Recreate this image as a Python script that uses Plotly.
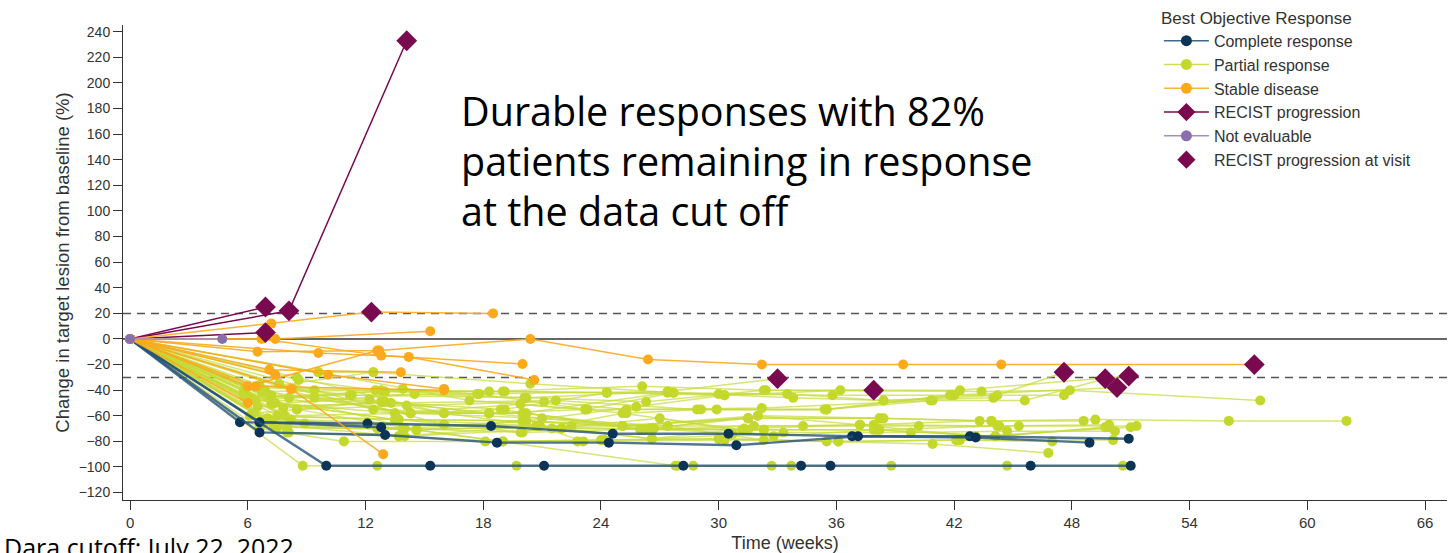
import plotly.graph_objects as go

# ---------------- data (weeks, % change from baseline) ----------------
pd_weeks = [[0, 6.9], [0, 8.1, 14.1], [0, 6.9]]
pd_values = [[0, 25], [0, 22, 233], [0, 5]]

ne_weeks = [[0, 4.7]]
ne_values = [[0, 0]]

sd_weeks = [
    [0, 7.2, 12.3, 18.5],
    [0, 7.4, 15.3],
    [0, 6.5, 12.7, 20.4, 26.4, 32.2, 39.4, 44.4, 57.3],
    [0, 9.6, 14.2, 20.6],
    [0, 6.7, 12.8, 20.0],
    [0, 10.1, 16.0],
    [0, 7.1, 13.8],
    [0, 8.2, 12.9],
    [0, 6.0, 12.6],
    [0, 6.4, 16.0],
    [0, 6.0],
    [0, 7.4],
]
sd_values = [
    [0, 12, 21, 20],
    [0, 0, 6],
    [0, -10, -9, 0, -16, -20, -20, -20, -20],
    [0, -11, -14, -32],
    [0, 0, -13, -19.5],
    [0, -28, -39],
    [0, -24, -26],
    [0, -39, -90],
    [0, -37, -9],
    [0, -37, -40],
    [0, -50],
    [0, -28],
]

cr_weeks = [
    [0, 5.6, 12.1, 18.4, 24.6, 30.5, 36.8, 42.8, 50.9],
    [0, 6.6, 13.0, 18.7, 24.4, 30.9, 37.1, 43.1, 48.9],
    [0, 6.6, 12.8],
    [0, 10.0, 15.3, 21.1, 28.2, 34.2, 35.7, 45.9, 51.0],
]
cr_values = [
    [0, -65, -66, -68, -74, -74, -76, -76, -78],
    [0, -73, -75, -81, -81, -83, -76, -77, -81],
    [0, -65, -69],
    [0, -99, -99, -99, -99, -99, -99, -99, -99],
]

pr_weeks = [
    [0, 7.1, 12.9, 19.0, 24.3, 30.3, 36.2, 42.3, 50.9],
    [0, 6.4, 13.9, 17.7, 27.4, 33.0],
    [0, 7.2, 14.5, 20.1, 26.3, 32.4, 37.9],
    [0, 5.8, 12.4, 20.4, 27.7, 33.8, 38.4, 44.2, 47.6],
    [0, 8.5, 14.1, 21.1, 25.3, 32.2, 40.8, 45.6, 49.7],
    [0, 6.5, 13.3, 21.7, 28.9, 35.4, 41.8, 50.3],
    [0, 6.7, 12.5, 18.3, 26.1, 32.3, 43.4, 47.9, 57.6],
    [0, 6.2, 13.5, 20.0, 25.1, 31.5, 38.2, 43.9, 49.2, 56.0, 62.0],
    [0, 7.4, 13.5, 20.1, 26.6, 32.0, 37.2, 43.3, 48.6],
    [0, 7.9, 14.3, 18.9, 26.2, 31.8, 37.9, 44.2, 49.9],
    [0, 7.0, 13.9, 20.1, 27.4, 34.3, 40.2, 45.3, 51.3],
    [0, 6.8, 13.7, 20.7, 26.6, 33.3, 39.8, 44.7, 50.2],
    [0, 8.2, 16.0, 21.5, 27.0, 32.8, 38.1, 44.1, 49.7],
    [0, 6.6, 10.9, 18.1, 24.0, 30.0, 36.1, 42.1, 47.0],
    [0, 8.0, 13.7, 19.0, 22.8, 30.3, 35.5, 40.9, 46.8],
    [0, 8.8, 12.6, 19.7, 27.9, 32.7, 38.8, 44.7, 50.6],
    [0, 8.0, 14.6, 27.8, 28.7, 33.7],
    [0, 5.8, 11.2, 17.7],
    [0, 7.6, 12.4, 18.3],
    [0, 6.3, 12.8, 19.1, 24.3],
    [0, 8.5, 16.0, 22.0],
    [0, 9.6, 17.3, 23.2, 27.7],
    [0, 6.1, 13.5, 20.1, 25.8, 30.3],
    [0, 7.1, 13.9, 19.9, 25.1, 31.2],
    [0, 9.4, 16.0, 20.7, 26.2, 32.3],
    [0, 9.4, 14.3, 21.0, 27.4, 32.3],
    [0, 8.5, 14.6, 22.5, 25.1, 31.5],
    [0, 9.6, 12.4],
    [0, 7.8, 12.8, 18.3, 23.2, 29.9, 35.5, 40.9],
    [0, 6.0, 12.2, 16.0, 20.2, 26.0, 31.5, 38.2, 43.9],
    [0, 7.5, 14.0, 19.0, 24.2, 30.0, 36.1, 42.3, 50.1],
    [0, 8.1, 14.6, 20.2, 26.6, 31.5, 37.9, 44.1, 49.9],
    [0, 7.3, 13.6, 20.9, 26.6, 31.3, 37.2, 43.1, 51.0],
    [0, 6.1, 13.0, 18.3, 25.1, 32.0, 38.4],
    [0, 5.9, 12.8, 19.1, 24.3, 30.0, 35.8, 41.8],
    [0, 6.9, 14.3, 20.0, 27.4, 33.5, 38.4, 44.0],
    [0, 8.3, 13.5, 19.9, 25.3, 29.1, 35.5, 42.0, 47.6],
    [0, 7.2, 12.9],
    [0, 8.6, 13.0, 17.8, 23.3],
    [0, 6.6, 11.3, 20.2, 27.4],
    [0, 7.5, 13.7, 20.0, 26.5, 30.7],
    [0, 8.1, 14.0, 22.0, 26.7, 32.3, 38.2, 44.3],
    [0, 7.3, 14.6, 20.8, 23.1],
    [0, 8.9, 12.6],
]
pr_values = [
    [0, -45, -41, -41, -42, -44, -40, -40, -29],
    [0, -48, -39, -43, -41, -31],
    [0, -51, -43, -46, -49, -40, -40],
    [0, -40, -26, -35, -42, -46, -48, -44, -26],
    [0, -55, -52, -49, -55, -54, -48, -48, -31],
    [0, -53, -50, -48, -55, -55, -44, -38],
    [0, -41, -40, -41, -37, -40, -41, -40, -48],
    [0, -47, -63, -64, -68, -62, -62, -64, -63, -64, -64],
    [0, -50, -58, -58, -70, -60, -67, -64, -64],
    [0, -60, -58, -55, -71, -68, -67, -68, -67],
    [0, -62, -70, -64, -68, -68, -68, -68, -68],
    [0, -66, -76, -68, -78, -73, -73, -72, -72],
    [0, -63, -67, -70, -62, -76, -71, -76, -69],
    [0, -70, -80, -80, -79, -78, -80, -79, -80],
    [0, -73, -76, -80, -80, -79, -80, -82, -89],
    [0, -99, -99, -99, -99, -99, -99, -99, -99],
    [0, -69, -71, -99, -99, -99],
    [0, -45, -44, -43],
    [0, -35, -55, -58],
    [0, -58, -49, -55, -42],
    [0, -30, -58, -70],
    [0, -26, -48, -55, -42],
    [0, -60, -63, -64, -53, -44],
    [0, -63, -70, -73, -58, -71],
    [0, -40, -67, -68, -71, -71],
    [0, -46, -58, -62, -68, -79],
    [0, -55, -71, -68, -68, -62],
    [0, -26, -26],
    [0, -54, -49, -58, -55, -55, -55, -48],
    [0, -45, -47, -58, -58, -71, -62, -62, -64],
    [0, -69, -70, -80, -79, -78, -80, -79, -79],
    [0, -46, -71, -64, -70, -71, -71, -76, -69],
    [0, -50, -63, -68, -78, -70, -67, -76, -69],
    [0, -48, -49, -58, -68, -60, -62],
    [0, -38, -40, -41, -42, -43, -44, -44],
    [0, -41, -58, -58, -42, -43, -48, -46],
    [0, -39, -58, -51, -58, -55, -55, -44, -44],
    [0, -44, -49],
    [0, -32, -41, -43, -55],
    [0, -36, -44, -46, -41],
    [0, -60, -63, -73, -70, -74],
    [0, -73, -76, -70, -70, -71, -71, -68],
    [0, -67, -71, -68, -80],
    [0, -66, -70],
]

prog_weeks = [6.9, 8.1, 14.1, 6.9, 12.3, 33.0, 37.9, 47.6, 49.7, 50.3, 50.9, 57.3]
prog_values = [25, 22, 233, 5, 21, -31, -40, -26, -31, -38, -29, -20]

x_ticks = [0, 6, 12, 18, 24, 30, 36, 42, 48, 54, 60, 66]
y_ticks = [-120, -100, -80, -60, -40, -20, 0, 20, 40, 60, 80, 100, 120, 140, 160, 180, 200, 220, 240]

annotation_lines = ["Durable responses with 82%", "patients remaining in response", "at the data cut off"]

# ---------------- styles ----------------
CR_MARK, CR_LINE = "#0c3457", "rgba(38,82,122,0.8)"
PR_MARK, PR_LINE = "#c4d82b", "rgba(198,218,55,0.7)"
SD_MARK, SD_LINE = "#fca91c", "rgba(251,168,30,0.9)"
PD_COL = "#7a0a4f"
NE_MARK, NE_LINE = "#8b6fad", "#a38fc2"

fig = go.Figure()


def add_group(weeks, values, mark, line, width=1.5, msize=10):
    for w, v in zip(weeks, values):
        fig.add_trace(go.Scatter(
            x=w, y=v, mode="lines+markers", showlegend=False, hoverinfo="skip",
            line=dict(color=line, width=width),
            marker=dict(color=mark, size=msize, symbol="circle"),
        ))


add_group(pr_weeks, pr_values, PR_MARK, PR_LINE, 1.5)
add_group(cr_weeks, cr_values, CR_MARK, CR_LINE, 2.4)

for w, v in zip(pd_weeks, pd_values):
    fig.add_trace(go.Scatter(x=w, y=v, mode="lines", showlegend=False, hoverinfo="skip",
                             line=dict(color=PD_COL, width=1.5)))

add_group(sd_weeks, sd_values, SD_MARK, SD_LINE, 1.5)
add_group(ne_weeks, ne_values, NE_MARK, NE_LINE, 1.5)

fig.add_trace(go.Scatter(x=prog_weeks, y=prog_values, mode="markers", showlegend=False,
                         hoverinfo="skip",
                         marker=dict(color=PD_COL, size=16, symbol="diamond")))

# legend entries
legend_items = [
    ("Complete response", "lines+markers", CR_MARK, "#3e6a8e", "circle", 11),
    ("Partial response", "lines+markers", PR_MARK, "#cddd55", "circle", 11),
    ("Stable disease", "lines+markers", SD_MARK, "#fbb43c", "circle", 11),
    ("RECIST progression", "lines+markers", PD_COL, PD_COL, "diamond", 14),
    ("Not evaluable", "lines+markers", NE_MARK, NE_LINE, "circle", 11),
    ("RECIST progression at visit", "markers", PD_COL, PD_COL, "diamond", 14),
]
for name, mode, mc, lc, sym, sz in legend_items:
    fig.add_trace(go.Scatter(x=[None], y=[None], mode=mode, name=name,
                             line=dict(color=lc, width=1.5),
                             marker=dict(color=mc, size=sz, symbol=sym)))

# reference lines
fig.add_shape(type="line", xref="paper", x0=0, x1=1, yref="y", y0=20, y1=20,
              line=dict(color="#555555", width=1.5, dash="8px,6px"), layer="below")
fig.add_shape(type="line", xref="paper", x0=0, x1=1, yref="y", y0=-30, y1=-30,
              line=dict(color="#555555", width=1.5, dash="8px,6px"), layer="below")
fig.add_shape(type="line", xref="paper", x0=0, x1=1, yref="y", y0=0, y1=0,
              line=dict(color="#333333", width=1.5), layer="below")

# big annotation
for txt, yv in zip(annotation_lines, [178, 139, 100]):
    fig.add_annotation(x=16.75, y=yv, xref="x", yref="y", text=txt, showarrow=False,
                       xanchor="left", yanchor="middle",
                       font=dict(family="Open Sans, Noto Sans, sans-serif", size=39.5, color="#000000"))

fig.add_annotation(x=-0.0914, y=-0.098, xref="paper", yref="paper",
                   text="Dara cutoff: July 22, 2022", showarrow=False,
                   xanchor="left", yanchor="middle",
                   font=dict(family="Open Sans, Noto Sans, sans-serif", size=25, color="#000000"))

axis_font = dict(family="Liberation Sans, Arial, sans-serif", size=14, color="#333333")
narrow_font = dict(family="Liberation Sans Narrow, Arial Narrow, Liberation Sans, sans-serif",
                   size=15, color="#333333")

fig.update_layout(
    width=1455, height=553,
    margin=dict(l=123, r=8, t=25, b=53, autoexpand=False),
    plot_bgcolor="white", paper_bgcolor="white",
    font=dict(family="Liberation Sans, Arial, sans-serif", color="#333333"),
    legend=dict(
        xref="container", yref="container",
        x=0.7965, y=0.997, xanchor="left", yanchor="top",
        bgcolor="rgba(0,0,0,0)",
        itemwidth=45,
        title=dict(text="Best Objective Response",
                   font=dict(family="Liberation Sans, Arial, sans-serif", size=17, color="#333333")),
        font=dict(family="Liberation Sans, Arial, sans-serif", size=16, color="#333333"),
        tracegroupgap=0,
    ),
    xaxis=dict(
        range=[-0.36, 67.12], showgrid=False, zeroline=False, automargin=False,
        showline=True, linecolor="#333333", linewidth=1,
        ticks="outside", ticklen=9, tickcolor="#333333",
        tickvals=x_ticks, tickfont=narrow_font,
        title=dict(text="Time (weeks)", font=dict(family=narrow_font["family"], size=18,
                                                   color="#333333"), standoff=11),
    ),
    yaxis=dict(
        range=[-125.8, 245.3], showgrid=False, zeroline=False, automargin=False,
        showline=True, linecolor="#333333", linewidth=1,
        ticks="outside", ticklen=9, tickcolor="#333333",
        tickvals=y_ticks, tickfont=axis_font,
        title=dict(text="Change in target lesion from baseline (%)",
                   font=dict(family="Liberation Sans, Arial, sans-serif", size=18.5, color="#333333"),
                   standoff=4),
    ),
)

fig.write_html("out.html", config={"displayModeBar": False})
